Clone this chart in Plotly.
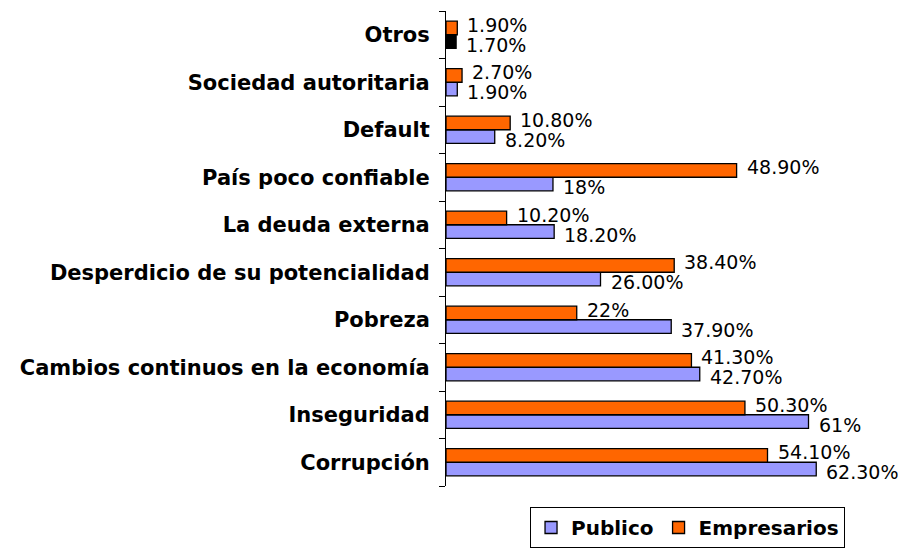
import plotly.graph_objects as go

categories = ["Corrupción", "Inseguridad", "Cambios continuos en la economía", "Pobreza",
              "Desperdicio de su potencialidad", "La deuda externa", "País poco confiable",
              "Default", "Sociedad autoritaria", "Otros"]
publico = [62.3, 61.0, 42.7, 37.9, 26.0, 18.2, 18.0, 8.2, 1.9, 1.7]
publico_labels = ["62.30%", "61%", "42.70%", "37.90%", "26.00%", "18.20%", "18%", "8.20%", "1.90%", "1.70%"]
empresarios = [54.1, 50.3, 41.3, 22.0, 38.4, 10.2, 48.9, 10.8, 2.7, 1.9]
empresarios_labels = ["54.10%", "50.30%", "41.30%", "22%", "38.40%", "10.20%", "48.90%", "10.80%", "2.70%", "1.90%"]

PUB_COLOR = "#9999FF"
EMP_COLOR = "#FF6600"
pub_colors = [PUB_COLOR] * (len(categories) - 1) + ["#000000"]

FONT = "DejaVu Sans"

fig = go.Figure()
fig.add_trace(go.Bar(
    y=categories, x=publico, name="Publico", orientation="h",
    marker=dict(color=pub_colors, line=dict(color="black", width=1.3)),
    cliponaxis=False,
))
fig.add_trace(go.Bar(
    y=categories, x=empresarios, name="Empresarios", orientation="h",
    marker=dict(color=EMP_COLOR, line=dict(color="black", width=1.3)),
    cliponaxis=False,
))

# value labels, placed next to each bar end
for cat, v, lab in zip(categories, publico, publico_labels):
    fig.add_annotation(x=v, y=cat, text=lab, showarrow=False, xanchor="left",
                       yanchor="middle", xshift=8, yshift=-10,
                       font=dict(family=FONT, size=19, color="black"))
for cat, v, lab in zip(categories, empresarios, empresarios_labels):
    fig.add_annotation(x=v, y=cat, text=lab, showarrow=False, xanchor="left",
                       yanchor="middle", xshift=8, yshift=10,
                       font=dict(family=FONT, size=19, color="black"))

# the page body adds an 8px offset, so the figure is sized to fit the window
fig.update_layout(
    width=898, height=542,
    margin=dict(l=438, r=44, t=3, b=63),
    paper_bgcolor="white", plot_bgcolor="white",
    barmode="group", bargap=0.43, bargroupgap=0,
    font=dict(family=FONT, color="black"),
    showlegend=True,
    legend=dict(
        orientation="h", x=0.202, xanchor="left", y=-0.042, yanchor="top",
        bordercolor="black", borderwidth=1, bgcolor="white",
        font=dict(family=FONT, size=20, color="black", weight="bold"),
        traceorder="normal",
    ),
    xaxis=dict(visible=False, range=[0, 70], fixedrange=True, automargin=False),
    yaxis=dict(
        type="category", categoryorder="array", categoryarray=categories,
        showline=True, linecolor="black", linewidth=1, automargin=False,
        ticks="outside", ticklen=6, tickcolor="black", tickson="boundaries",
        ticklabelstandoff=11, showgrid=False,
        tickfont=dict(family=FONT, size=21, color="black", weight="bold"),
    ),
)

fig.write_html("out.html")
